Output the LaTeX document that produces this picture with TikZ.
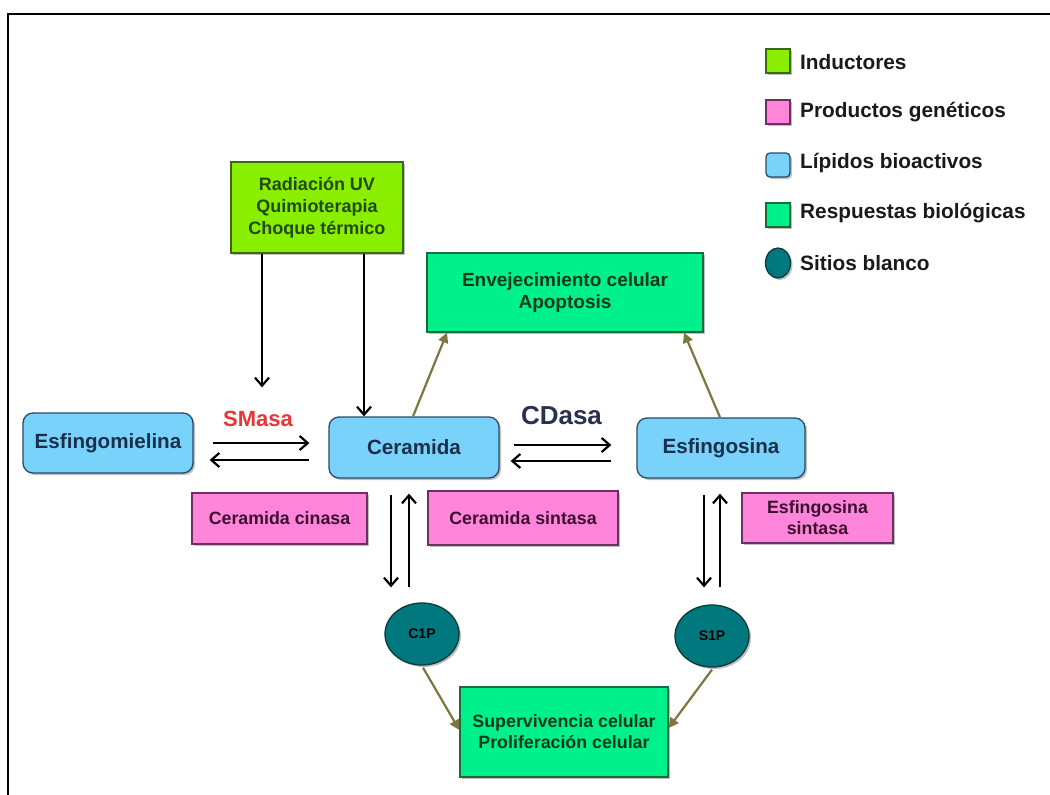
\documentclass[tikz,border=0pt]{standalone}
\usepackage{fontspec}
\setmainfont{Liberation Sans}
\usetikzlibrary{arrows.meta,shapes.geometric,shadows,calc}
\definecolor{indg}{HTML}{8AEE00}
\definecolor{indgB}{HTML}{3A6A10}
\definecolor{indgT}{HTML}{1F4A10}
\definecolor{pinkf}{HTML}{FF85DA}
\definecolor{pinkB}{HTML}{6A3060}
\definecolor{pinkT}{HTML}{3A1030}
\definecolor{lblue}{HTML}{78D2FA}
\definecolor{lblueB}{HTML}{2A4A66}
\definecolor{lblueT}{HTML}{1A2F4A}
\definecolor{resg}{HTML}{00F08C}
\definecolor{resgB}{HTML}{1A6A3A}
\definecolor{resgT}{HTML}{0A3A1A}
\definecolor{tealf}{HTML}{00787D}
\definecolor{tealB}{HTML}{0A3A3A}
\definecolor{olive}{HTML}{7D7640}
\definecolor{smred}{HTML}{E83535}
\definecolor{cdnavy}{HTML}{2A3050}
\definecolor{legT}{HTML}{1A1A1A}
\tikzset{
  shad/.style={drop shadow={shadow xshift=2pt,shadow yshift=-2pt,opacity=0.25,fill=black}},
  lipid/.style={draw=lblueB,fill=lblue,line width=1.3pt,rounded corners=10pt,text=lblueT,
    font=\fontsize{20.6}{24}\selectfont\bfseries,inner sep=0pt,align=center,shad},
  prod/.style={draw=pinkB,fill=pinkf,line width=1.3pt,text=pinkT,
    font=\fontsize{17.8}{21}\selectfont\bfseries,inner sep=0pt,align=center,shad},
  indu/.style={draw=indgB,fill=indg,line width=1.3pt,text=indgT,
    font=\fontsize{18}{22}\selectfont\bfseries,inner sep=0pt,align=center,shad},
  resp/.style={draw=resgB,fill=resg,line width=1.3pt,text=resgT,
    font=\fontsize{19}{22}\selectfont\bfseries,inner sep=0pt,align=center,shad},
  site/.style={ellipse,draw=tealB,fill=tealf,line width=1.3pt,text=black,
    font=\fontsize{14}{16}\selectfont\bfseries,inner sep=0pt,shad},
  arr/.style={line width=2.4pt,-{Straight Barb[length=8pt,width=14pt,line width=2.2pt]}},
  oarr/.style={olive,line width=2.2pt,-{Triangle[length=10pt,width=10pt]}},
  legtext/.style={anchor=west,inner sep=0pt,text=legT,font=\fontsize{20.8}{24}\selectfont\bfseries},
}
\begin{document}
\begin{tikzpicture}[x=1pt,y=-1pt]
\useasboundingbox (0,0) rectangle (1050,795);
\fill[white] (0,0) rectangle (1050,795);
% frame
\draw[line width=2.2pt] (8,795) -- (8,14) -- (1050,14);

% main nodes
\node[lipid,minimum width=170pt,minimum height=60pt] (esm) at (108,443) {Esfingomielina};
\node[lipid,minimum width=170pt,minimum height=61pt] (cer) at (414,447.5) {Ceramida};
\node[lipid,minimum width=168pt,minimum height=60pt] (eso) at (721,448) {Esfingosina};
\node[indu,minimum width=172pt,minimum height=91pt] (rad) at (317,207.5) {Radiación UV\\Quimioterapia\\Choque térmico};
\node[resp,minimum width=276pt,minimum height=79pt] (env) at (565,292.5) {Envejecimiento celular\\Apoptosis};
\node[prod,minimum width=175pt,minimum height=51pt] (cck) at (279.5,518.5) {Ceramida cinasa};
\node[prod,minimum width=190pt,minimum height=54pt] (ccs) at (523,518) {Ceramida sintasa};
\node[prod,minimum width=151pt,minimum height=50pt] (ess) at (817.5,518) {Esfingosina\\sintasa};
\node[site,minimum width=74pt,minimum height=62pt] (c1p) at (422,634) {C1P};
\node[site,minimum width=74pt,minimum height=62pt] (s1p) at (712,636) {S1P};
\node[resp,font=\fontsize{17.8}{21}\selectfont\bfseries,minimum width=208pt,minimum height=90pt] (sup) at (564,732) {Supervivencia celular\\Proliferación celular};

% enzyme labels
\node[text=smred,font=\fontsize{22}{26}\selectfont\bfseries,inner sep=0pt] (smasa) at (258,418.5) {SMasa};
\node[text=cdnavy,font=\fontsize{26}{30}\selectfont\bfseries,inner sep=0pt] (cdasa) at (561.5,416) {CDasa};

% inducer arrows
\draw[arr] ([xshift=-55]rad.south) -- ([xshift=-55,yshift=25]rad.south |- esm.north);
\draw[arr] ([xshift=47]rad.south) -- ([xshift=47]rad.south |- cer.north);

% SMasa arrows
\draw[arr] ([xshift=19]esm.east) -- ([xshift=-19]cer.west |- esm.east);
\draw[arr] ([xshift=-19,yshift=-17]cer.west |- esm.east) -- ([xshift=16,yshift=-17]esm.east);

% CDasa arrows
\draw[arr] ([xshift=14,yshift=2.5]cer.east) -- ([xshift=-25,yshift=2.5]cer.east -| eso.west);
\draw[arr] ([xshift=-25,yshift=-13.5]cer.east -| eso.west) -- ([xshift=11,yshift=-13.5]cer.east);

% Ceramida <-> C1P
\draw[arr] ([xshift=-23,yshift=-16]cer.south) -- ([xshift=-23,yshift=15]cer.south |- c1p.north);
\draw[arr] ([xshift=-5,yshift=15]cer.south |- c1p.north) -- ([xshift=-5,yshift=-15]cer.south);

% Esfingosina <-> S1P
\draw[arr] ([xshift=-17,yshift=-16]eso.south) -- ([xshift=-17,yshift=17]eso.south |- s1p.north);
\draw[arr] ([xshift=-1,yshift=17]eso.south |- s1p.north) -- ([xshift=-1,yshift=-15]eso.south);

% olive arrows
\draw[oarr] ([xshift=-1]cer.north) -- ([xshift=-118]env.south);
\draw[oarr] ([xshift=-1]eso.north) -- ([xshift=119]env.south);
\draw[oarr] ([xshift=1,yshift=-2]c1p.south) -- ([yshift=2]sup.west);
\draw[oarr] ([yshift=-2]s1p.south) -- ([yshift=4]sup.east);

% legend
\node[indu,minimum width=24pt,minimum height=24pt] (l1) at (778,61) {};
\node[prod,minimum width=24pt,minimum height=24pt] (l2) at (778,112) {};
\node[lipid,rounded corners=4pt,minimum width=24pt,minimum height=24pt] (l3) at (778,165) {};
\node[resp,minimum width=24pt,minimum height=24pt] (l4) at (778,215) {};
\node[site,minimum width=25pt,minimum height=30pt] (l5) at (778,263) {};
\node[legtext] (t1) at (800,62) {Inductores};
\node[legtext] (t2) at (800,112) {Productos genéticos};
\node[legtext] (t3) at (800,163) {Lípidos bioactivos};
\node[legtext] (t4) at (800,213) {Respuestas biológicas};
\node[legtext] (t5) at (800,263) {Sitios blanco};
\end{tikzpicture}
\end{document}
